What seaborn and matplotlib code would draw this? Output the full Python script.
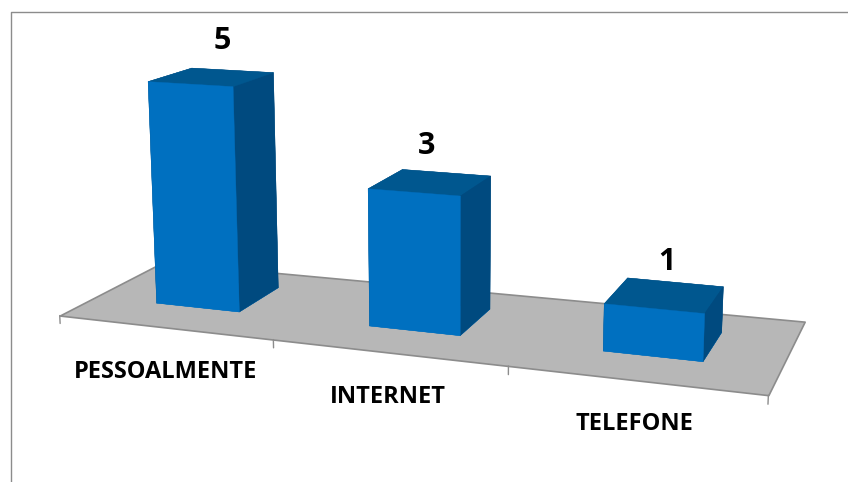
import matplotlib
matplotlib.use('Agg')
import matplotlib.pyplot as plt
from matplotlib.lines import Line2D
from mpl_toolkits.mplot3d.art3d import Poly3DCollection
import seaborn as sns

categories = ["PESSOALMENTE", "INTERNET", "TELEFONE"]
values = [5, 3, 1]

FRONT = "#0070C0"
SIDE = "#004A7F"
TOP = "#00578F"
FLOOR = "#B7B7B7"
GRID = "#8C8C8C"

sns.set_theme(style="white")
plt.rcParams['font.family'] = ['Open Sans', 'DejaVu Sans']

fig = plt.figure(figsize=(8.48, 4.82), dpi=100)

# camera fitted by eye to the Excel 3D look
size, cx, cy = 785, 415.4, 195.6
ax = fig.add_axes([(cx - size / 2) / 848, 1 - (cy + size / 2) / 482, size / 848, size / 482],
                  projection='3d', computed_zorder=False)
ax.view_init(12.66, -70.03, 0.16)
ax.set_proj_type('persp', focal_length=0.404)
ax.set_box_aspect((1, 0.298, 0.391))
ax.set_axis_off()

n = len(categories)

# floor, back edge pushed out a little on the right
floor = Poly3DCollection([[(0, 0, 0), (n, 0, 0), (n, 1.08, 0), (0, 1.02, 0)]],
                         facecolor=FLOOR, edgecolor=GRID, linewidth=1.2, zorder=1)
ax.add_collection3d(floor)

# category ticks under the front edge
for i in range(n + 1):
    ax.plot([i, i], [0, 0], [0, -0.18], color=GRID, linewidth=1, zorder=2)

# bars, faces are ordered bottom, top, front, back, left, right
bar_w, y0, y1 = 0.399, 0.338, 0.782
faces = [FRONT, TOP, FRONT, SIDE, SIDE, SIDE]
value_dx = [0.055, -0.015, 0.005]
value_dz = [0.82, 0.78, 0.70]
label_dz = [-1.0, -0.95, -0.9]
for i, (label, value) in enumerate(zip(categories, values)):
    c = i + 0.5
    ax.bar3d(c - bar_w / 2, y0, 0, bar_w, y1 - y0, value, color=faces,
             edgecolor=faces, linewidth=0.3, shade=False, zorder=3 + i)
    ax.text(c + value_dx[i], (y0 + y1) / 2, value + value_dz[i], str(value),
            ha='center', va='center', fontsize=22, fontweight='bold',
            color='black', zorder=10)
    ax.text(c, 0, label_dz[i], label, ha='center', va='center',
            fontsize=17, fontweight='bold', color='black', zorder=10)

ax.set_xlim(0, n)
ax.set_ylim(0, 1)
ax.set_zlim(0, 6)
ax.set_xticks([])
ax.set_yticks([])
ax.set_zticks([])

# the axes is bigger than the figure, drop its empty texts
for axis in (ax.xaxis, ax.yaxis, ax.zaxis):
    axis.set_visible(False)
for t in (ax.title, ax._left_title, ax._right_title):
    t.set_visible(False)

# chart area border, only left and top fall inside the crop
fig.add_artist(Line2D([10.5 / 848, 10.5 / 848, 1], [0, 1 - 12 / 482, 1 - 12 / 482],
                      color=GRID, linewidth=1))

fig.savefig('out.png', dpi=100)
